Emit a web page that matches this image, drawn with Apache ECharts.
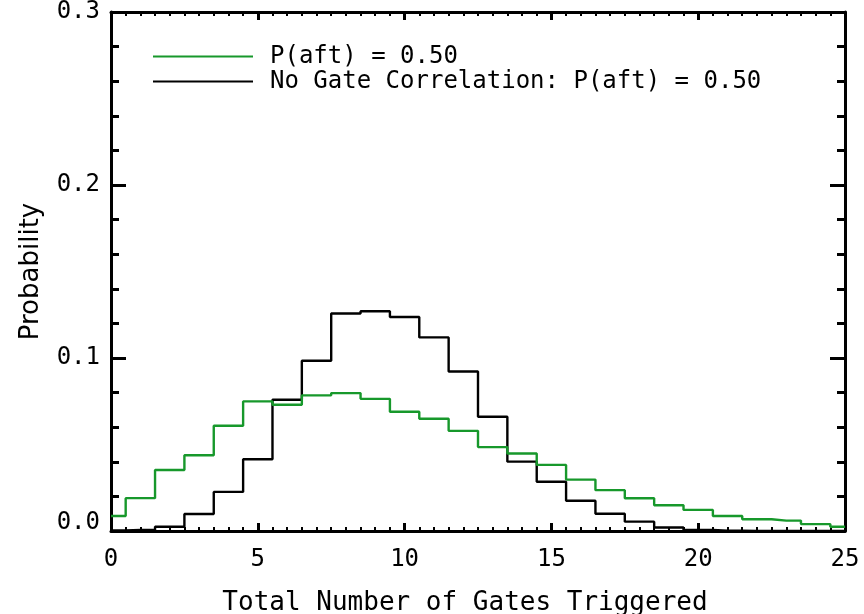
<!DOCTYPE html>
<html>
<head>
<meta charset="utf-8">
<script src="https://cdn.jsdelivr.net/npm/echarts@6/dist/echarts.min.js"></script>
<style>html,body{margin:0;padding:0;background:#fff}#c{width:864px;height:614px}</style>
</head>
<body>
<div id="c"></div>
<script>
var gates = [0,1,2,3,4,5,6,7,8,9,10,11,12,13,14,15,16,17,18,19,20,21,22,23,24,25];
var probCorr = [0.0087,0.019,0.0353,0.0438,0.0608,0.0749,0.073,0.0784,0.0797,0.0764,0.0689,0.0649,0.0579,0.0485,0.0448,0.0382,0.0297,0.0236,0.0189,0.0149,0.0122,0.0087,0.0068,0.006,0.004,0.0025];
var probNoCorr = [0.0003,0.0006,0.0025,0.0098,0.0226,0.0415,0.0759,0.0984,0.1257,0.127,0.1237,0.1119,0.0922,0.066,0.0401,0.0285,0.0175,0.0100,0.0054,0.0020,0.0006,0.0002,0.0001,0,0,0];
var yTicks = ['0.0','0.1','0.2','0.3'];
var seriesNames = ['P(aft) = 0.50','No Gate Correlation: P(aft) = 0.50'];
var xTitle = 'Total Number of Gates Triggered';
var yTitle = 'Probability';

var MONO = 'DejaVu Sans Mono';
var SANS = 'DejaVu Sans';
function pairs(v){ return gates.map(function(g,i){ return [g, v[i]]; }); }

var chart = echarts.init(document.getElementById('c'), null, {renderer:'canvas'});
var axisLine = {show:true, onZero:false, lineStyle:{color:'#000', width:3}};
chart.setOption({
  animation:false,
  backgroundColor:'#fff',
  grid:{left:111, right:19, top:12, bottom:83, containLabel:false, outerBoundsMode:'none'},
  legend:{
    orient:'vertical', left:153, top:44, padding:0,
    icon:'rect', itemWidth:100, itemHeight:2, itemGap:0,
    textStyle:{fontFamily:MONO, fontSize:24, lineHeight:25, color:'#000', padding:[0,0,0,12]},
    data:seriesNames
  },
  xAxis:[{
    type:'value', min:0, max:25, interval:5, position:'bottom',
    axisLine:axisLine,
    axisTick:{show:true, inside:true, length:8, lineStyle:{color:'#000', width:3}},
    minorTick:{show:true, splitNumber:10, length:4, lineStyle:{color:'#000', width:2}},
    splitLine:{show:false}, minorSplitLine:{show:false},
    axisLabel:{margin:17, fontFamily:MONO, fontSize:24, color:'#000'},
    name:xTitle, nameLocation:'middle', nameGap:59,
    nameTextStyle:{fontFamily:MONO, fontSize:26, color:'#000', padding:[0,26,0,0]}
  },{
    type:'value', min:0, max:25, interval:5, position:'top',
    axisLine:axisLine,
    axisTick:{show:true, inside:true, length:8, lineStyle:{color:'#000', width:3}},
    minorTick:{show:true, splitNumber:10, length:4, lineStyle:{color:'#000', width:2}},
    splitLine:{show:false}, axisLabel:{show:false}
  }],
  yAxis:[{
    type:'value', min:0, max:0.3, interval:0.1, position:'left',
    axisLine:axisLine,
    axisTick:{show:true, inside:true, length:15, lineStyle:{color:'#000', width:3}},
    minorTick:{show:true, splitNumber:5, length:8, lineStyle:{color:'#000', width:3}},
    splitLine:{show:false}, minorSplitLine:{show:false},
    axisLabel:{margin:11, fontFamily:MONO, fontSize:24, color:'#000',
      formatter:function(v){ var i=Math.round(v*10); var t=yTicks[i]; return i===0 ? '{z|'+t+'}' : t; },
      rich:{z:{fontFamily:MONO, fontSize:24, color:'#000', padding:[0,0,16,0]}}
    },
    name:yTitle, nameLocation:'middle', nameGap:67, nameRotate:90,
    nameTextStyle:{fontFamily:SANS, fontSize:26, color:'#000'}
  },{
    type:'value', min:0, max:0.3, interval:0.1, position:'right',
    axisLine:axisLine,
    axisTick:{show:true, inside:true, length:15, lineStyle:{color:'#000', width:3}},
    minorTick:{show:true, splitNumber:5, length:8, lineStyle:{color:'#000', width:3}},
    splitLine:{show:false}, axisLabel:{show:false}
  }],
  series:[{
    name:seriesNames[0], type:'line', step:'middle', xAxisIndex:0, yAxisIndex:0,
    symbol:'none', showSymbol:false, data:pairs(probCorr),
    lineStyle:{color:'#17982b', width:2.4}, itemStyle:{color:'#17982b'}, z:3
  },{
    name:seriesNames[1], type:'line', step:'middle', xAxisIndex:0, yAxisIndex:0,
    symbol:'none', showSymbol:false, data:pairs(probNoCorr),
    lineStyle:{color:'#000', width:2.4}, itemStyle:{color:'#000'}, z:2
  }]
});
</script>
</body>
</html>
